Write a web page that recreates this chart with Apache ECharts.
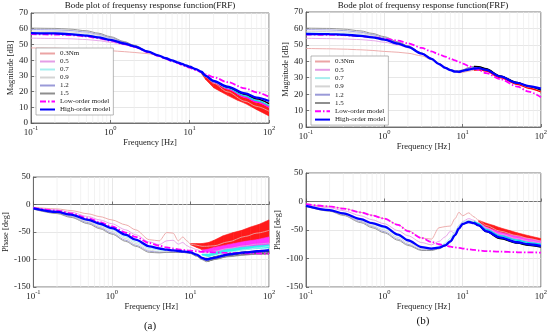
<!DOCTYPE html>
<html><head><meta charset="utf-8">
<script src="https://cdn.jsdelivr.net/npm/echarts@6/dist/echarts.min.js"></script>
<style>html,body{margin:0;padding:0;background:#fff}#c{width:550px;height:335px}</style>
</head><body><div id="c"></div>
<script>
// ---------- data ----------
const freq = [0.1,0.2,0.3,0.5,0.7,1,1.5,2,3,4,5,6,7,8,9,10,12,14,16,20,30,50,70,100];
const minorTicks = [0.2,0.3,0.4,0.5,0.6,0.7,0.8,0.9,2,3,4,5,6,7,8,9,20,30,40,50,60,70,80,90];
const seriesNames = ['0.3Nm','0.5','0.7','0.9','1.2','1.5'];
const modelNames = ['Low-order model','High-order model'];
const titleText = 'Bode plot of frequensy response function(FRF)';

// (a) magnitude [dB]
const magA_03 = [47.8,47.6,47.4,47.0,46.6,46.0,45.4,44.9,44.1,42.9,41.1,39.7,38.5,37.5,36.5,35.7,34.1,32.3,29.3,25.3,19.8,13.8,10.5,7.5];
const magA_05 = [54.0,53.8,53.6,53.1,52.4,51.4,49.8,48.3,45.2,42.9,41.1,39.7,38.5,37.5,36.5,35.7,34.1,32.4,29.6,26.0,21.8,16.4,13.3,10.0];
const magA_07 = [57.5,57.3,57.0,56.2,55.1,53.4,50.9,48.9,45.3,42.9,41.1,39.7,38.5,37.5,36.5,35.7,34.1,32.4,29.7,26.3,22.3,17.2,14.2,11.0];
const magA_09 = [58.5,58.3,58.0,57.1,55.8,53.9,51.2,49.1,45.4,43.0,41.2,39.8,38.6,37.6,36.6,35.8,34.2,32.5,29.8,26.4,22.5,17.6,14.6,11.5];
const magA_12 = [59.5,59.3,58.9,57.9,56.5,54.4,51.5,49.3,45.5,43.1,41.2,39.8,38.6,37.6,36.6,35.8,34.2,32.5,29.9,26.5,22.7,17.9,15.0,12.0];
const magA_15 = [60.4,60.2,59.8,58.7,57.2,55.0,51.8,49.5,45.6,43.1,41.3,39.9,38.7,37.7,36.7,35.8,34.3,32.6,30.0,26.6,22.9,18.2,15.3,12.3];
const magA_LO = [56.5,56.3,56.0,55.1,54.0,52.4,50.2,48.4,45.1,42.7,40.9,39.4,38.2,37.0,36.0,35.1,33.6,32.3,31.0,29.2,26.0,22.0,19.5,16.7];
const magA_HO = [57.2,57.0,56.6,55.6,54.5,52.9,50.6,48.8,45.4,43.0,41.2,39.8,38.6,37.6,36.6,35.8,34.3,32.6,30.0,26.8,23.1,18.8,16.2,14.0];
// noisy band of 0.3Nm data at high frequency
const magA_bandF = [14,16,20,25,30,40,50,70,100];
const magA_bandLo = [31.6,27.5,22.5,19.8,17.6,14.5,12.5,8.5,4.5];
const magA_bandHi = [32.4,29.6,26.0,23.5,21.5,19.0,17.5,14.5,11.0];

// (a) phase [deg]
const phA_03 = [-5,-8,-11,-17,-22,-28,-37,-46,-64,-66,-51,-52,-66,-59,-66,-72,-74,-76,-76,-75,-68,-58,-52,-47];
const phA_05 = [-6,-10,-14,-22,-28,-35,-46,-55,-68,-73,-66,-65,-72,-69,-75,-78,-82,-86,-88,-85,-80,-75,-72,-70];
const phA_07 = [-7,-13.5,-19,-29,-37,-46,-59,-68,-80,-83,-84,-84,-85,-85,-86,-87,-92,-98,-101,-96,-88,-82,-79,-76];
const phA_09 = [-7.5,-14.5,-20.5,-31,-39.5,-49,-62,-71,-83,-86,-86,-86,-86,-86,-87,-88,-93,-99,-102,-98,-92,-87,-85,-84];
const phA_12 = [-8,-15.5,-22,-33,-42,-52,-65,-74,-85,-87,-87,-87,-87,-87,-88,-89,-94,-100,-103,-99,-94,-90,-88,-87];
const phA_15 = [-8.5,-16.5,-23.5,-35,-44,-54,-67,-76,-87,-88,-87,-87,-87,-87,-88,-89,-94,-100,-104,-100,-95,-92,-90,-89];
const phA_LO = [-6,-11,-16,-25,-32,-40,-51,-59,-70,-75,-78,-80,-81.5,-82.5,-83.5,-84,-85,-86,-86.5,-87,-88,-89,-89,-89.5];
const phA_HO = [-7,-13.5,-18.5,-28,-35,-43,-55,-64,-76,-80,-82,-83.5,-84.5,-85.5,-86,-87,-91,-97,-100,-97,-91,-87,-85,-83];
const phA_redF = [10,12,14,17,20,26,35,45,58,75,100];
const phA_redLo = [-73,-78,-82,-84,-83,-81,-79,-77,-76,-73,-70];
const phA_redHi = [-71,-71,-71,-69,-65,-57,-51,-47,-41,-36,-28];
const phA_hfF = [14,17,20,30,50,70,100];
const phA_magLo = [-85,-87,-86,-82,-78,-76,-75];
const phA_magHi = [-83,-81,-78,-73,-67,-64,-59];
const phA_cyaLo = [-92,-95,-92,-86,-82,-80,-79];
const phA_cyaHi = [-90,-90,-87,-81,-77,-75,-73];
const phA_blkLo = [-99,-103,-100,-94,-91,-90,-90];
const phA_blkHi = [-97,-98,-95,-89,-86,-85,-84];

// (b) magnitude [dB]
const magB_03 = [47.8,47.6,47.4,47.0,46.6,46.0,45.5,44.9,43.3,41.0,38.3,36.0,34.6,33.5,33.0,33.2,34.0,34.6,34.8,34.0,30.0,26.0,23.6,21.3];
const magB_05 = [54.0,53.8,53.6,53.2,52.6,51.6,49.9,48.3,44.6,41.3,38.2,35.9,34.5,33.7,33.5,34.0,35.0,35.5,35.4,34.3,30.3,26.3,24.0,21.8];
const magB_07 = [57.3,57.1,56.8,56.0,54.9,53.4,50.9,48.9,44.8,41.5,38.4,36.1,34.7,33.9,33.8,34.3,35.5,36.1,36.0,34.8,30.7,26.7,24.3,22.1];
const magB_09 = [58.3,58.1,57.8,56.9,55.6,53.9,51.2,49.1,44.9,41.6,38.5,36.2,34.8,34.0,34.0,34.5,35.8,36.5,36.4,35.1,30.9,26.9,24.5,22.2];
const magB_12 = [59.3,59.1,58.7,57.7,56.3,54.4,51.5,49.3,45.0,41.7,38.6,36.3,34.9,34.1,34.1,34.6,36.0,36.7,36.6,35.3,31.0,27.0,24.6,22.3];
const magB_15 = [60.2,60.0,59.6,58.5,57.0,55.0,51.8,49.5,45.1,41.8,38.7,36.4,35.0,34.2,34.2,34.8,36.2,36.9,36.8,35.5,31.1,27.1,24.7,22.4];
const magB_LO = [56.3,56.1,55.9,55.3,54.7,53.7,52.6,51.0,48.2,46.0,44.2,42.8,41.6,40.5,39.5,38.6,37.1,35.8,34.7,32.8,29.2,24.6,21.5,18.1];
const magB_HO = [56.6,56.5,56.2,55.5,54.6,53.2,50.8,48.8,44.7,41.5,38.3,36.0,34.6,33.7,33.6,34.2,35.0,35.6,35.8,34.8,30.8,26.8,24.9,23.3];

// (b) phase [deg]
const phB_03 = [-5,-8.5,-12,-19,-24,-30,-41,-51,-64,-66,-46,-44,-43,-30,-19,-25,-20,-27,-33,-42,-52,-60,-65,-70];
const phB_05 = [-6,-11,-16,-25,-32,-39,-51,-60,-72,-76,-70,-62,-52,-56,-42,-35,-30,-33,-38,-46,-57,-65,-69,-73];
const phB_07 = [-7,-14,-20,-31,-39,-47,-60,-69,-80,-82,-79,-73,-64,-53,-42,-36,-33,-35,-39,-49,-60,-68,-72,-75];
const phB_09 = [-7.5,-15,-21.5,-33,-42,-50,-63,-72,-83,-84,-81,-76,-68,-57,-46,-38,-34,-36,-40,-51,-62,-70,-74,-77];
const phB_12 = [-8,-16,-23,-35,-44,-53,-66,-75,-85,-85,-82,-77,-70,-59,-48,-40,-35,-37,-41,-52,-64,-72,-76,-79];
const phB_15 = [-8.5,-17,-24.5,-37,-46,-55,-68,-77,-86,-86,-83,-78,-71,-60,-49,-41,-36,-38,-42,-53,-65,-73,-77,-80];
const phB_LO = [-4.7,-8.5,-12.5,-19,-24.5,-30,-41,-52,-64,-71,-75,-77.5,-79.2,-80.5,-81.5,-82.5,-84,-85,-86,-87,-88,-89,-89.3,-89.6];
const phB_HO = [-7.6,-15,-21,-31,-38,-44,-58,-68,-80,-82.5,-81,-77,-70,-59,-47,-39.5,-36,-38,-42,-52,-63,-71.5,-75,-78];
const phB_bandF = [16,20,25,30,40,50,70,100];
const phB_redLo = [-35,-45,-51,-55,-60,-64,-68,-73];
const phB_redHi = [-33,-38,-42,-46,-51,-55,-60,-65];
const phB_magLo = [-39,-48,-55,-59,-64,-67,-71,-75];
const phB_magHi = [-37,-45,-50,-54,-58,-61,-65,-69];

// ---------- styling ----------
const F = '"Liberation Serif","Times New Roman","DejaVu Serif",serif';
const TXT = '#222';
const AX = '#555';
const light = ['#eba4a4','#e49ee6','#a6eeee','#d4d4d4','#9a9ad8','#8e8e8e'];
const strong = ['#ff0000','#ff00ff','#00e6e6','#bdbdbd','#3c3cff','#000000'];
const loColor = '#ff00ff', hoColor = '#0000ff';
const HF_START = 17; // index of 14 Hz

const grids = [
  {left:31, top:13, width:238, height:110},
  {left:306, top:12, width:235, height:115},
  {left:31, top:177, width:238, height:110},
  {left:306, top:173, width:235, height:114}
];

function pairs(xs, ys) { return xs.map((x, i) => [x, ys[i]]); }

function lineS(k, name, ys, color, width, dash, xs) {
  return {type:'line', name: name, xAxisIndex:k, yAxisIndex:k,
    data: pairs(xs || freq, ys), smooth:0.3, smoothMonotone:'x', symbol:'none',
    lineStyle:{color:color, width:width, type: dash || 'solid'}, itemStyle:{color:color},
    silent:true, animation:false};
}
function bandS(k, fs, lo, hi, color) {
  return {type:'custom', xAxisIndex:k, yAxisIndex:k, silent:true, animation:false, clip:true,
    data: fs.map((f, i) => [f, lo[i], hi[i]]), encode:{x:0, y:[1,2]},
    renderItem: function (params, api) {
      const i = params.dataIndexInside;
      if (i >= params.dataInsideLength - 1) return null;
      const a = api.coord([api.value(0, i), api.value(1, i)]);
      const b = api.coord([api.value(0, i + 1), api.value(1, i + 1)]);
      const c = api.coord([api.value(0, i + 1), api.value(2, i + 1)]);
      const d = api.coord([api.value(0, i), api.value(2, i)]);
      return {type:'polygon', shape:{points:[a, b, c, d]}, style:{fill:color, stroke:color, lineWidth:0.6}};
    }};
}
function vgridS(k) {
  return {type:'custom', xAxisIndex:k, yAxisIndex:k, silent:true, animation:false, z:1,
    data: minorTicks.map(v => [v, 0]), encode:{x:0, y:1},
    renderItem: function (params, api) {
      const x = api.coord([api.value(0), 0])[0];
      const cs = params.coordSys;
      return {type:'line', shape:{x1:x, y1:cs.y, x2:x, y2:cs.y + cs.height},
        style:{stroke:'#ececec', lineWidth:0.7}};
    }};
}

function buildPlot(k, exp, lo, ho, bands, overlays) {
  const out = [vgridS(k)];
  out.push(lineS(k, seriesNames[0], exp[0], light[0], 0.9));
  bands.forEach(b => out.push(bandS(k, b[0], b[1], b[2], b[3])));
  for (let j = 1; j < 6; j++) out.push(lineS(k, seriesNames[j], exp[j], light[j], 0.9));
  overlays.forEach(j => out.push(lineS(k, null, exp[j].slice(HF_START), strong[j], 1.3, 'solid', freq.slice(HF_START))));
  out.push(lineS(k, modelNames[0], lo, loColor, 1.8, [6, 2, 1.5, 2]));
  out.push(lineS(k, modelNames[1], ho, hoColor, 2.3));
  return out;
}

const series = [].concat(
  buildPlot(0, [magA_03, magA_05, magA_07, magA_09, magA_12, magA_15], magA_LO, magA_HO,
    [[magA_bandF, magA_bandLo, magA_bandHi, '#ff1a1a']], [1, 2, 5]),
  buildPlot(1, [magB_03, magB_05, magB_07, magB_09, magB_12, magB_15], magB_LO, magB_HO,
    [], [0, 5]),
  buildPlot(2, [phA_03, phA_05, phA_07, phA_09, phA_12, phA_15], phA_LO, phA_HO,
    [[phA_redF, phA_redLo, phA_redHi, '#ff1a1a'],
     [phA_hfF, phA_magLo, phA_magHi, '#ff33ff'],
     [phA_hfF, phA_cyaLo, phA_cyaHi, '#33f0f0'],
     [phA_hfF, phA_blkLo, phA_blkHi, '#111111']], []),
  buildPlot(3, [phB_03, phB_05, phB_07, phB_09, phB_12, phB_15], phB_LO, phB_HO,
    [[phB_bandF, phB_redLo, phB_redHi, '#ff1a1a'],
     [phB_bandF, phB_magLo, phB_magHi, '#ff40ff']], [2, 5])
);

function expFmt(v) {
  const e = Math.round(Math.log10(v));
  return '{b|10}{s|' + e + '}';
}
function xAx(k, gap) {
  return {type:'log', logBase:10, gridIndex:k, min:0.1, max:100,
    name:'Frequency [Hz]', nameLocation:'middle', nameGap:gap,
    nameTextStyle:{fontFamily:F, fontSize:8.5, color:TXT},
    axisLine:{lineStyle:{color:AX, width:0.8}},
    axisTick:{inside:true, length:3, lineStyle:{color:AX, width:0.8}},
    axisLabel:{margin:2, formatter:expFmt, color:TXT, fontFamily:F, fontSize:9,
      rich:{b:{fontFamily:F, fontSize:9, color:TXT, lineHeight:12, verticalAlign:'bottom'},
            s:{fontFamily:F, fontSize:6.5, color:TXT, lineHeight:12, verticalAlign:'top'}}},
    splitLine:{show:true, lineStyle:{color:'#dcdcdc', width:0.7}}};
}
function yAx(k, min, max, interval, name, gap) {
  return {type:'value', gridIndex:k, min:min, max:max, interval:interval,
    name:name, nameLocation:'middle', nameGap:gap,
    nameTextStyle:{fontFamily:F, fontSize:8.5, color:TXT},
    axisLine:{show:true, lineStyle:{color:AX, width:0.8}},
    axisTick:{show:true, inside:true, length:3, lineStyle:{color:AX, width:0.8}},
    axisLabel:{margin:3, fontFamily:F, fontSize:9, color:TXT},
    splitLine:{show:true, lineStyle:{color:'#dcdcdc', width:0.7}}};
}

const legendNames = seriesNames.concat(modelNames);
function legendAt(left, top, gap) {
  return {orient:'vertical', left:left, top:top, data:legendNames, itemWidth:15, itemHeight:7,
    itemGap:gap, padding:[2,3,2,3], backgroundColor:'#fff', borderColor:'#9a9a9a', borderWidth:0.7,
    borderRadius:0, selectedMode:false, itemStyle:{opacity:0},
    textStyle:{fontFamily:F, fontSize:7, color:TXT}};
}

function textG(x, y, text, size) {
  return {type:'text', x:x, y:y, silent:true,
    style:{text:text, align:'center', verticalAlign:'middle', fontFamily:F, fontSize:size, fill:'#111'}};
}

const option = {
  backgroundColor:'#fff',
  animation:false,
  grid: grids.map(g => Object.assign({show:true, borderColor:AX, borderWidth:0.8, containLabel:false}, g)),
  xAxis:[xAx(0, 15), xAx(1, 14), xAx(2, 14), xAx(3, 14)],
  yAxis:[yAx(0, 0, 70, 10, 'Magnitude [dB]', 12), yAx(1, 0, 70, 10, 'Magnitude [dB]', 11),
         yAx(2, -150, 50, 50, 'Phase [deg]', 20), yAx(3, -150, 50, 50, 'Phase [deg]', 20)],
  legend:[legendAt(36, 48, 1), legendAt(311, 56, 1.3)],
  graphic:[textG(150, 6, titleText, 9), textG(423, 6, titleText, 9),
           textG(150, 326, '(a)', 11), textG(423, 321, '(b)', 11)],
  series: series
};
const chart = echarts.init(document.getElementById('c'), null, {renderer:'canvas'});
chart.setOption(option);
</script>
</body></html>
